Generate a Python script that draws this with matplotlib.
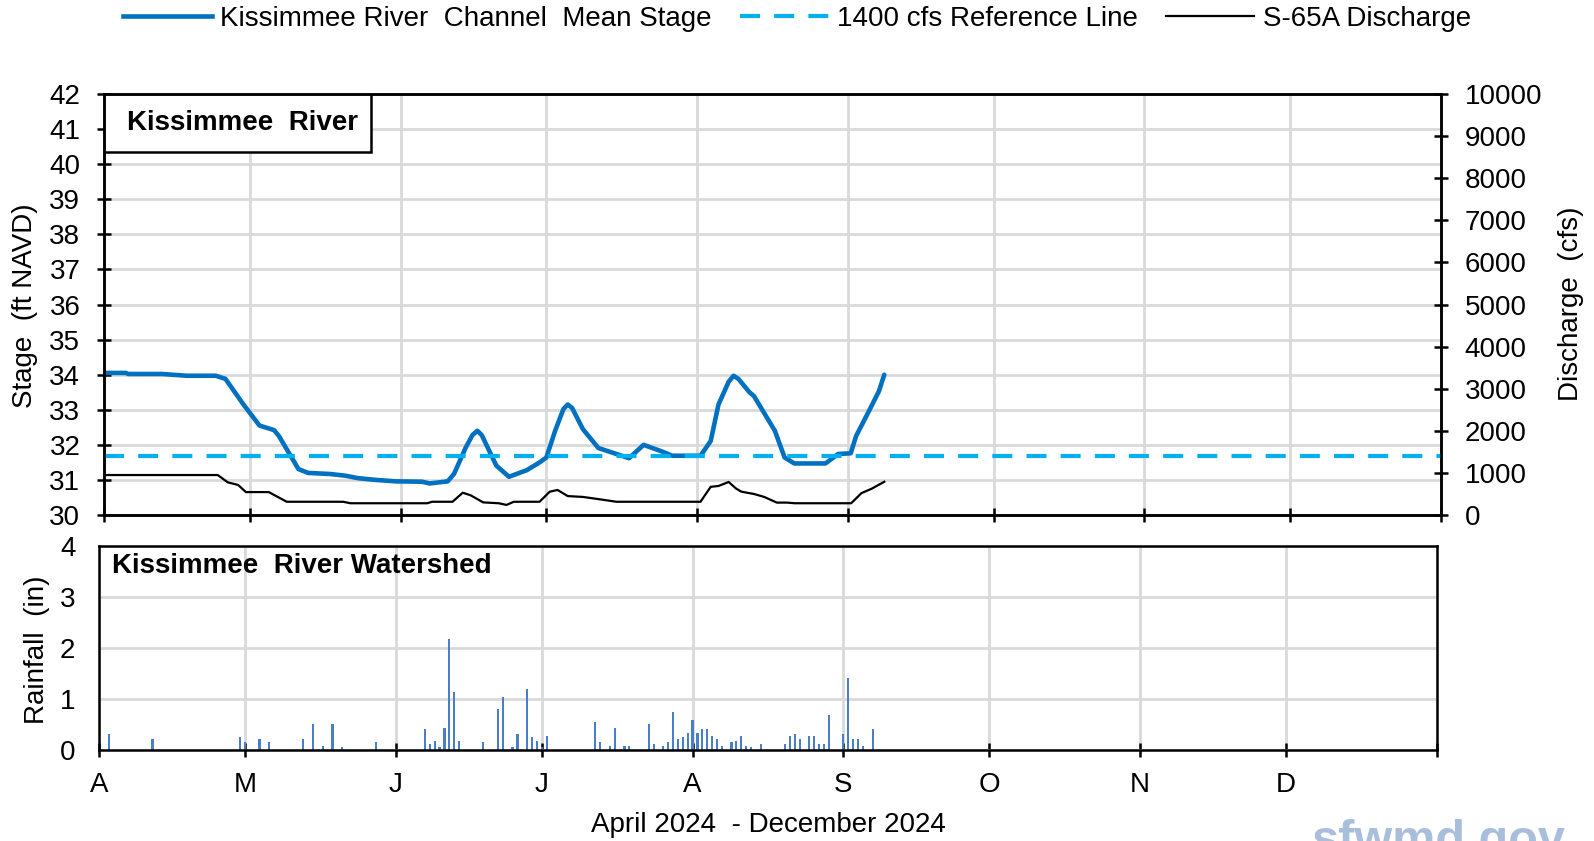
import numpy as np
import pandas as pd
import matplotlib
matplotlib.use("Agg")
from matplotlib import pyplot as plt
from matplotlib.patches import Rectangle
from matplotlib.lines import Line2D

plt.rcParams['font.family'] = ['Liberation Sans', 'DejaVu Sans']

start = pd.Timestamp('2024-04-01')
end = pd.Timestamp('2025-01-01')

# channel mean stage (days after Apr 1, ft NAVD)
stage_day = [0, 4.5, 5, 12, 17, 23, 25, 28.7, 32, 35, 36, 38.6, 40, 42, 46.5, 49.7,
             52.3, 56, 60, 65.4, 67, 70.7, 72, 74.4, 75.8, 76.8, 77.7, 78.6, 80.7, 83.3,
             87, 89.6, 91, 92.8, 94.5, 95.4, 96.3, 98.5, 101.7, 105.4, 108, 111, 114.8,
             116.9, 122.7, 124.8, 126.4, 128.5, 129.5, 130.5, 132.7, 133.7, 138, 140,
             142, 148.4, 151, 153.6, 154.7, 157.7, 159.4, 160.5]
stage_ft = [34.05, 34.05, 34.02, 34.02, 33.97, 33.97, 33.88, 33.15, 32.55, 32.42, 32.25,
            31.64, 31.31, 31.2, 31.17, 31.12, 31.05, 31.0, 30.96, 30.95, 30.9, 30.96,
            31.17, 31.92, 32.28, 32.4, 32.28, 32.02, 31.41, 31.09, 31.28, 31.5, 31.64,
            32.4, 33.02, 33.15, 33.05, 32.45, 31.91, 31.74, 31.62, 32.0, 31.81, 31.69,
            31.69, 32.11, 33.15, 33.8, 33.97, 33.88, 33.51, 33.39, 32.4, 31.64, 31.47,
            31.47, 31.74, 31.76, 32.25, 33.06, 33.53, 34.0]

# S-65A discharge (days after Apr 1, cfs)
flow_day = [0, 23.4, 25.5, 27.6, 29.2, 33.9, 37.6, 49.2, 50.7, 66.5, 67.5, 71.7, 73.8,
            75.4, 78, 81.2, 82.8, 84.3, 89.6, 91.7, 93.3, 95.4, 98.5, 102.2, 105.4, 122.7,
            124.8, 126.4, 128.5, 130, 131.1, 133.7, 135.8, 138.4, 140.5, 142.1, 153.7,
            155.8, 157.9, 160.5]
flow_cfs = [950, 950, 775, 715, 545, 545, 315, 315, 280, 280, 315, 315, 530, 470, 300,
            280, 240, 315, 315, 555, 595, 450, 430, 370, 315, 315, 670, 690, 785, 630,
            555, 500, 430, 295, 295, 280, 280, 520, 625, 790]

ref_cfs = 1400

# daily rainfall (days after Apr 1, inches)
rain_day = [2, 11, 29, 30, 33, 35, 42, 44, 46, 48, 50, 57, 67, 68, 69, 70, 71, 72, 73, 74,
            79, 82, 83, 85, 86, 88, 89, 90, 91, 92, 102, 103, 105, 106, 108, 109, 113, 114,
            116, 117, 118, 119, 120, 121, 122, 123, 124, 125, 126, 127, 128, 130, 131, 132,
            133, 134, 136, 141, 142, 143, 144, 146, 147, 148, 149, 150, 153, 154, 155, 156,
            157, 159]
rain_in = [0.31, 0.21, 0.25, 0.15, 0.21, 0.15, 0.21, 0.51, 0.08, 0.51, 0.05, 0.15, 0.41,
           0.11, 0.18, 0.05, 0.44, 2.17, 1.14, 0.18, 0.15, 0.81, 1.04, 0.05, 0.31, 1.2,
           0.25, 0.18, 0.05, 0.28, 0.54, 0.15, 0.08, 0.44, 0.08, 0.08, 0.51, 0.11, 0.08,
           0.15, 0.74, 0.21, 0.25, 0.34, 0.58, 0.34, 0.41, 0.41, 0.28, 0.21, 0.08, 0.15,
           0.18, 0.28, 0.08, 0.05, 0.11, 0.11, 0.28, 0.31, 0.21, 0.28, 0.28, 0.11, 0.11,
           0.68, 0.31, 1.41, 0.21, 0.21, 0.08, 0.41]

month_labels = ['A', 'M', 'J', 'J', 'A', 'S', 'O', 'N', 'D', '']

stage_t = start + pd.to_timedelta(stage_day, unit='D')
flow_t = start + pd.to_timedelta(flow_day, unit='D')
rain_t = start + pd.to_timedelta(rain_day, unit='D')
month_starts = pd.date_range(start, end, freq='MS')

grid_c = '#d9d9d9'
fs = 20
ref_dash = (4.8, 3.4)

fig = plt.figure(figsize=(15.94, 8.41), dpi=100)
ax = fig.add_axes([0.0652, 0.3876, 0.8388, 0.5006])
ax2 = ax.twinx()
axr = fig.add_axes([0.0621, 0.1082, 0.8394, 0.2426])

# ---- top panel: stage + discharge ----
ax.plot(stage_t, stage_ft, color='#0070C0', lw=3.3, solid_capstyle='round',
        solid_joinstyle='round')
ax.set_ylim(30, 42)
ax.set_yticks(range(30, 43))
ax.set_xlim(start, end)
ax.set_xticks(month_starts)
ax.tick_params(labelbottom=False)
ax.grid(True, color=grid_c, lw=2)
ax.set_axisbelow(True)

ax2.plot(flow_t, flow_cfs, color='black', lw=1.6)
ax2.axhline(ref_cfs, color='#00B0F0', lw=3, dashes=ref_dash)
ax2.set_ylim(0, 10000)
ax2.set_yticks(range(0, 10001, 1000))

for a in (ax, ax2):
    for s in a.spines.values():
        s.set_linewidth(1.8)
    a.tick_params(direction='inout', length=10, width=1.8, labelsize=fs, pad=12)

box = Rectangle((0, 0.863), 0.2, 0.137, transform=ax.transAxes, fill=True,
                facecolor='white', edgecolor='black', lw=1.8, zorder=5)
ax.add_patch(box)
ax.text(0.017, 0.931, 'Kissimmee  River', transform=ax.transAxes, fontsize=fs,
        fontweight='bold', va='center', ha='left', zorder=6)

# ---- bottom panel: rainfall ----
axr.bar(rain_t, rain_in, width=0.45, color='#4A7EC9')
axr.set_ylim(0, 4)
axr.set_yticks(range(0, 5))
axr.set_xlim(start, end)
axr.set_xticks(month_starts)
axr.set_xticklabels(month_labels)
axr.grid(True, color=grid_c, lw=2)
axr.set_axisbelow(True)
for s in axr.spines.values():
    s.set_linewidth(1.8)
axr.tick_params(axis='x', direction='inout', length=10, width=1.8, labelsize=fs, pad=11)
axr.tick_params(axis='y', length=0, labelsize=fs, pad=17)
axr.text(0.0097, 0.9, 'Kissimmee  River Watershed', transform=axr.transAxes,
         fontsize=fs, fontweight='bold', va='center', ha='left')

# ---- labels ----
fig.text(0.0157, 0.637, 'Stage  (ft NAVD)', rotation=90, ha='center', va='center', fontsize=fs)
fig.text(0.0235, 0.227, 'Rainfall  (in)', rotation=90, ha='center', va='center', fontsize=fs)
fig.text(0.9856, 0.639, 'Discharge  (cfs)', rotation=90, ha='center', va='center', fontsize=fs)
fig.text(0.4818, 0.019, 'April 2024  - December 2024', ha='center', va='center', fontsize=fs)

handles = [Line2D([], [], color='#0070C0', lw=3.3),
           Line2D([], [], color='#00B0F0', lw=3, dashes=ref_dash),
           Line2D([], [], color='black', lw=1.6)]
labels = ['Kissimmee River  Channel  Mean Stage', '1400 cfs Reference Line', 'S-65A Discharge']
fig.legend(handles, labels, loc='center', bbox_to_anchor=(0.5, 0.978), ncol=3,
           frameon=False, fontsize=fs, handlelength=3.2, handletextpad=0.3,
           columnspacing=1.0)

fig.text(0.8225, -0.016, 'sfwmd.gov', color='#a9bedb', fontsize=35, fontweight='bold',
         ha='left', va='baseline')

fig.savefig('out.png', dpi=100)
